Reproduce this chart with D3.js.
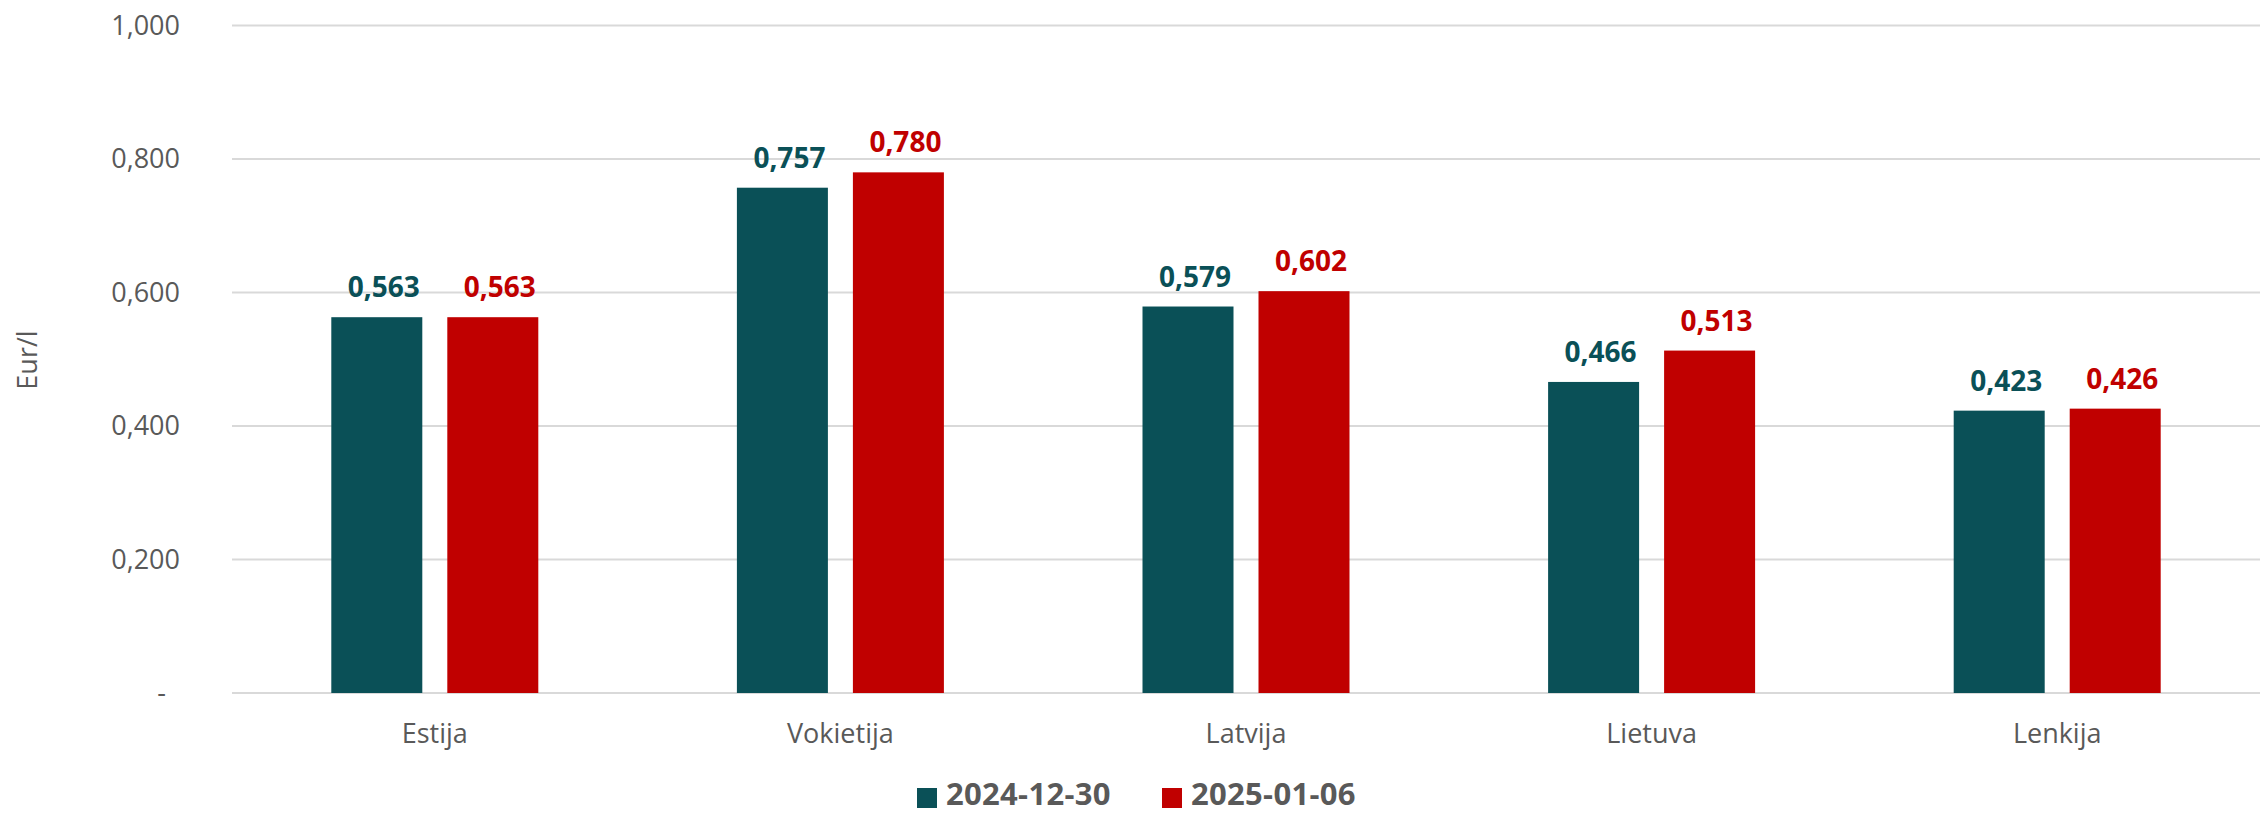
<html>
<head>
<meta charset="utf-8">
<title>Eur/l</title>
<script src="https://cdn.jsdelivr.net/npm/d3@7"></script>
<style>
  body { margin: 0; background: #fff; }
  text { font-family: "Open Sans", "Noto Sans", sans-serif; }
</style>
</head>
<body>
<svg id="chart"></svg>
<script>
// data
var countries = ["Estija", "Vokietija", "Latvija", "Lietuva", "Lenkija"];
var series_names = ["2024-12-30", "2025-01-06"];
var vals_1230 = [0.563, 0.757, 0.579, 0.466, 0.423];
var vals_0106 = [0.563, 0.780, 0.602, 0.513, 0.426];
var y_ticks = [0, 0.2, 0.4, 0.6, 0.8, 1.0];
var colors = ["#0A5057", "#C00000"];

var width = 2260, height = 814;
var svg = d3.select("#chart").attr("width", width).attr("height", height);

var plot_left = 232, plot_right = 2260, plot_top = 25.5, plot_bottom = 693;

var x = d3.scaleBand().domain(countries).range([plot_left, plot_right]).paddingInner(0).paddingOuter(0);
var group_w = 207;
var x1 = d3.scaleBand().domain(series_names).range([0, group_w]).paddingInner(2 - 207/116);
var y = d3.scaleLinear().domain([0, 1]).range([plot_bottom, plot_top]);

var fmt = function(v) { return v === 0 ? "-" : d3.format(".3f")(v).replace(".", ","); };

// gridlines
svg.append("g").selectAll("line").data(y_ticks).enter()
  .append("line")
  .attr("x1", plot_left).attr("x2", plot_right)
  .attr("y1", function(d) { return y(d); }).attr("y2", function(d) { return y(d); })
  .style("stroke", "#D9D9D9").style("stroke-width", 2);

// y tick labels
svg.append("g").selectAll("text").data(y_ticks).enter()
  .append("text")
  .attr("x", function(d) { return d === 0 ? 166 : 180; })
  .attr("y", function(d) { return y(d); })
  .attr("dy", "0.35em")
  .attr("text-anchor", "end")
  .style("font-size", "27px").style("fill", "#595959")
  .text(fmt);

// y title
svg.append("text")
  .attr("transform", "translate(37 360) rotate(-90)")
  .attr("text-anchor", "middle")
  .style("font-size", "27px").style("fill", "#595959")
  .text("Eur/l");

// category labels
svg.append("g").selectAll("text").data(countries).enter()
  .append("text")
  .attr("x", function(d) { return x(d) + x.bandwidth()/2; })
  .attr("y", 743)
  .attr("text-anchor", "middle")
  .style("font-size", "27px").style("fill", "#595959")
  .text(function(d) { return d; });

var all_series = [vals_1230, vals_0106];

all_series.forEach(function(vals, s) {
  var g = svg.append("g");
  g.selectAll("rect").data(vals).enter()
    .append("rect")
    .attr("x", function(d, i) { return x(countries[i]) + x.bandwidth()/2 - group_w/2 + x1(series_names[s]); })
    .attr("width", x1.bandwidth())
    .attr("y", function(d) { return y(d); })
    .attr("height", function(d) { return y(0) - y(d); })
    .style("fill", colors[s]);

  g.selectAll("text").data(vals).enter()
    .append("text")
    .attr("x", function(d, i) { return x(countries[i]) + x.bandwidth()/2 - group_w/2 + x1(series_names[s]) + x1.bandwidth()/2 + 7; })
    .attr("y", function(d) { return y(d) - 20; })
    .attr("text-anchor", "middle")
    .style("font-size", "28px").style("font-weight", "bold").style("fill", colors[s])
    .text(function(d) { return fmt(d); });
});

// legend
var legend_x = [917, 1162];
var legend = svg.append("g").selectAll("g").data(series_names).enter()
  .append("g")
  .attr("transform", function(d, i) { return "translate(" + legend_x[i] + " 788)"; });
legend.append("rect").attr("width", 20).attr("height", 20)
  .style("fill", function(d, i) { return colors[i]; });
legend.append("text").attr("x", 29).attr("y", 17)
  .style("font-size", "31px").style("font-weight", "bold").style("fill", "#595959")
  .style("letter-spacing", "0.3px")
  .text(function(d) { return d; });
</script>
</body>
</html>
